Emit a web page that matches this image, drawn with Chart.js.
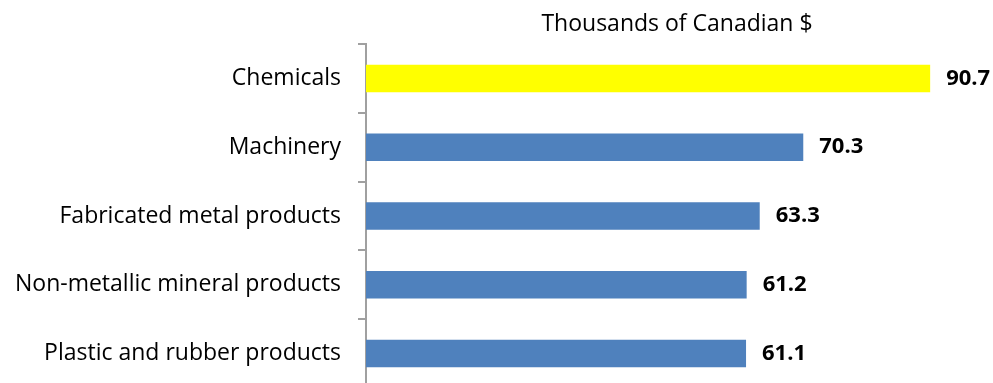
<!DOCTYPE html>
<html>
<head>
<meta charset="utf-8">
<script src="https://cdn.jsdelivr.net/npm/chart.js@4.4.1/dist/chart.umd.min.js"></script>
<style>
  html, body { margin: 0; padding: 0; background: #fff; overflow: hidden; }
  canvas { display: block; }
</style>
</head>
<body>
<canvas id="chart-1" width="993" height="388"></canvas>
<script>
const industries = [
  'Chemicals',
  'Machinery',
  'Fabricated metal products',
  'Non-metallic mineral products',
  'Plastic and rubber products'
];
const wages = [90.7, 70.3, 63.3, 61.2, 61.1];
const barColors = ['#FFFF00', '#4F81BD', '#4F81BD', '#4F81BD', '#4F81BD'];

const FONT = '"Open Sans", Lato, sans-serif';

// value labels at the end of each bar
const valueLabels = {
  id: 'valueLabels',
  afterDatasetsDraw(chart) {
    const ctx = chart.ctx;
    const meta = chart.getDatasetMeta(0);
    ctx.save();
    ctx.font = 'bold 22px ' + FONT;
    ctx.fillStyle = '#000';
    ctx.textAlign = 'left';
    ctx.textBaseline = 'middle';
    meta.data.forEach((bar, i) => {
      ctx.fillText(wages[i].toFixed(1), bar.x + 16, bar.y);
    });
    ctx.restore();
  }
};

const ctx1 = document.getElementById("chart-1").getContext("2d");
const myChart = new Chart(ctx1, {
  type: "bar",
  data: {
    labels: industries,
    datasets: [{
      data: wages,
      backgroundColor: barColors,
      categoryPercentage: 1,
      barPercentage: 0.4
    }]
  },
  options: {
    indexAxis: 'y',
    responsive: false,
    animation: false,
    layout: { padding: { left: 0, right: 5, top: 0, bottom: 0 } },
    plugins: {
      legend: { display: false },
      tooltip: { enabled: false }
    },
    scales: {
      x: {
        position: 'top',
        min: 0,
        max: 100,
        ticks: { display: false },
        grid: { display: false },
        border: { display: false },
        title: {
          display: true,
          text: 'Thousands of Canadian $',
          color: '#000',
          font: { family: FONT, size: 23 },
          padding: { top: 11, bottom: 2 }
        },
        afterFit(scale) { scale.height = 44; }
      },
      y: {
        ticks: {
          color: '#000',
          font: { family: FONT, size: 23 },
          padding: 17
        },
        grid: {
          offset: true,
          drawOnChartArea: false,
          tickLength: 8,
          color: '#A0A0A0',
          lineWidth: 2
        },
        border: { color: '#A0A0A0', width: 2 },
        afterFit(scale) {
          scale.width = 366;
          scale.paddingTop = 0;
          scale.paddingBottom = 0;
        }
      }
    }
  },
  plugins: [valueLabels]
});
</script>
</body>
</html>
